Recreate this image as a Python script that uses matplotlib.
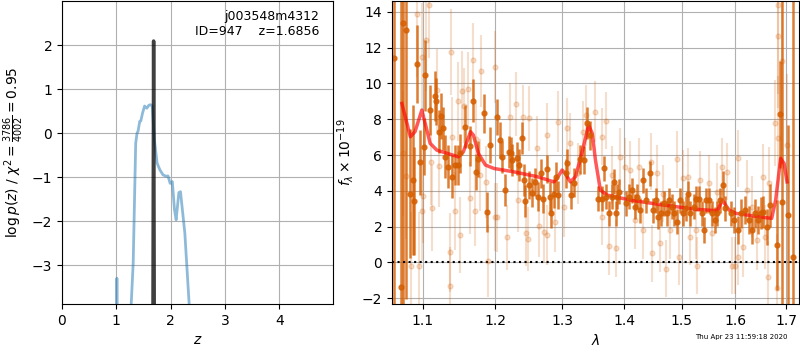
"""Redshift fit summary for j003548m4312 ID=947: p(z) and G141 spectrum."""

import matplotlib
matplotlib.use("Agg")
import matplotlib.pyplot as plt
from matplotlib.ticker import FixedLocator, FixedFormatter, NullLocator

# ---- p(z) panel ----
zgrid = [0.98, 1.0, 1.01, 1.02, 1.23, 1.31, 1.356, 1.38, 1.40, 1.43, 1.45, 1.48,
         1.52, 1.56, 1.60, 1.63, 1.66, 1.70, 1.75, 1.80, 1.86, 1.92, 1.95, 1.99,
         2.03, 2.07, 2.10, 2.15, 2.18, 2.26, 2.34]
logpz = [-5.0, -5.0, -3.3, -5.0, -5.0, -2.95, -0.23, 0.0, 0.05, 0.27, 0.28, 0.45,
         0.62, 0.57, 0.64, 0.65, 0.62, -0.15, -0.68, -0.83, -0.95, -0.98, -0.97, -1.14,
         -1.1, -1.74, -1.97, -1.35, -1.33, -2.27, -3.9]
zspike = [1.672, 1.6856, 1.699]
logpz_spike = [-5.0, 2.1, -5.0]
z_best = 1.6856
chi2_num, chi2_den = 3786, 4002

# ---- spectrum panel: binned (dark) points ----
wave_bin = [1.063, 1.072, 1.075, 1.078, 1.083, 1.087, 1.089, 1.093, 1.097, 1.102,
            1.103, 1.110, 1.116, 1.118, 1.122, 1.124, 1.127, 1.130, 1.134, 1.139,
            1.143, 1.147, 1.151, 1.157, 1.164, 1.168, 1.173, 1.175, 1.184, 1.188,
            1.193, 1.203, 1.207, 1.210, 1.214, 1.220, 1.223, 1.225, 1.232, 1.235,
            1.239, 1.242, 1.244, 1.249, 1.254, 1.258, 1.263, 1.268, 1.270, 1.276,
            1.281, 1.283, 1.287, 1.290, 1.293, 1.306, 1.308, 1.314, 1.319, 1.329,
            1.335, 1.339, 1.344, 1.357, 1.363, 1.367, 1.371, 1.375, 1.380, 1.383,
            1.386, 1.388, 1.392, 1.403, 1.408, 1.413, 1.418, 1.422, 1.428, 1.432,
            1.438, 1.445, 1.450, 1.455, 1.459, 1.463, 1.469, 1.474, 1.478, 1.483,
            1.487, 1.492, 1.498, 1.502, 1.508, 1.512, 1.516, 1.522, 1.527, 1.531,
            1.537, 1.541, 1.545, 1.551, 1.556, 1.561, 1.565, 1.571, 1.577, 1.580,
            1.591, 1.598, 1.605, 1.611, 1.619, 1.626, 1.632, 1.638, 1.643, 1.650,
            1.654, 1.661, 1.668, 1.681, 1.688, 1.691, 1.704, 1.714]
flux_bin = [11.4, -1.36, 13.35, 12.98, 3.85, 4.6, 3.42, 11.08, 5.59, 6.46,
            10.45, 8.5, 9.29, 9.0, 7.3, 8.17, 7.49, 5.9, 5.34, 4.78,
            5.44, 5.44, 6.1, 7.58, 6.5, 9.03, 5.03, 5.8, 8.32, 2.81,
            6.55, 8.13, 6.83, 5.9, 4.04, 6.18, 6.09, 5.72, 5.81, 5.44,
            6.93, 4.6, 3.42, 4.32, 3.9, 4.5, 3.67, 4.97, 3.57, 5.21,
            3.67, 2.74, 3.85, 4.79, 3.76, 4.97, 5.53, 3.76, 4.45, 5.75,
            5.72, 7.8, 7.1, 3.57, 3.57, 5.25, 3.67, 2.74, 3.67, 4.5,
            2.74, 3.67, 3.95, 3.3, 3.67, 4.04, 3.11, 3.67, 2.92, 4.6,
            3.48, 4.97, 2.92, 3.48, 2.55, 2.74, 3.3, 2.74, 3.48, 3.11,
            2.74, 2.27, 3.48, 2.74, 3.02, 3.85, 2.74, 3.11, 3.57, 3.57,
            2.74, 1.81, 3.48, 3.48, 2.74, 2.37, 2.74, 3.48, 4.32, 3.02,
            2.74, 2.37, 1.81, 2.74, 2.92, 2.37, 1.81, 2.74, 2.37, 2.74,
            2.83, 1.99, 3.2, 0.97, 8.27, 3.4, 2.65, 0.32]
err_bin = [20.0, 20.0, 20.0, 15.0, 3.6, 4.2, 3.0, 2.2, 1.8, 1.6,
           2.0, 1.4, 1.4, 1.3, 1.2, 1.3, 1.2, 1.2, 1.2, 1.2,
           1.1, 1.1, 1.1, 1.2, 1.1, 1.2, 1.0, 1.0, 1.1, 1.1,
           1.0, 1.0, 1.0, 0.9, 0.9, 0.9, 0.9, 0.9, 0.9, 0.9,
           0.9, 0.9, 0.9, 0.8, 0.8, 0.8, 0.8, 0.8, 0.8, 0.8,
           0.8, 0.8, 0.8, 0.8, 0.8, 0.8, 0.8, 0.8, 0.8, 0.8,
           0.8, 0.9, 0.8, 0.7, 0.7, 0.7, 0.7, 0.7, 0.7, 0.7,
           0.7, 0.7, 0.7, 0.7, 0.7, 0.7, 0.7, 0.7, 0.7, 0.7,
           0.7, 0.7, 0.7, 0.7, 0.7, 0.7, 0.7, 0.7, 0.7, 0.7,
           0.7, 0.7, 0.7, 0.7, 0.7, 0.7, 0.7, 0.7, 0.7, 0.7,
           0.7, 0.7, 0.7, 0.7, 0.7, 0.7, 0.7, 0.7, 0.8, 0.7,
           0.7, 0.7, 0.8, 0.8, 0.8, 0.8, 0.8, 0.8, 0.8, 0.9,
           0.9, 1.0, 1.2, 2.5, 3.0, 20.0, 5.0, 20.0]

# ---- spectrum panel: unbinned (light) points ----
wave_raw = [1.075, 1.078, 1.085, 1.092, 1.095, 1.099, 1.099, 1.100, 1.105, 1.109,
            1.111, 1.112, 1.119, 1.122, 1.137, 1.137, 1.138, 1.140, 1.143, 1.148,
            1.151, 1.153, 1.156, 1.161, 1.164, 1.169, 1.171, 1.172, 1.178, 1.180,
            1.187, 1.190, 1.199, 1.200, 1.203, 1.217, 1.222, 1.230, 1.233, 1.240,
            1.245, 1.248, 1.249, 1.262, 1.265, 1.272, 1.276, 1.277, 1.289, 1.293,
            1.303, 1.308, 1.313, 1.325, 1.333, 1.338, 1.353, 1.364, 1.364, 1.370,
            1.375, 1.380, 1.387, 1.393, 1.401, 1.410, 1.418, 1.426, 1.433, 1.446,
            1.448, 1.457, 1.461, 1.467, 1.473, 1.480, 1.491, 1.495, 1.503, 1.512,
            1.515, 1.526, 1.528, 1.533, 1.551, 1.556, 1.566, 1.575, 1.583, 1.593,
            1.600, 1.604, 1.605, 1.615, 1.622, 1.633, 1.641, 1.653, 1.657, 1.664,
            1.666, 1.678, 1.681, 1.683, 1.683, 1.684, 1.691, 1.702]
flux_raw = [6.1, 4.82, -0.19, 13.86, -0.19, 2.87, 11.49, 3.7, 12.4, 14.4,
            5.6, 3.02, 9.63, 5.4, 0.56, -1.32, 11.77, 7.02, 2.87, 9.0,
            1.53, 9.6, 8.75, 9.67, 3.6, 11.3, 2.9, 6.9, 4.9, 10.69,
            4.5, 0.09, 2.55, 10.93, 2.51, 1.4, 8.13, 8.84, 3.48, 8.13,
            1.62, 1.3, 8.04, 6.37, 2.03, 1.71, 7.11, 1.53, 2.27, 7.86,
            3.11, 7.49, 6.65, 4.97, 7.3, 8.23, 8.41, 7.02, 2.55, 7.91,
            0.91, 4.88, 0.78, 5.9, 5.34, 5.16, 2.37, 5.34, 1.81, 5.62,
            0.5, 4.97, 1.06, 3.85, -0.34, 1.81, 5.75, 0.32, 4.69, 4.79,
            1.43, 1.81, -0.19, 4.6, 4.41, 1.62, 3.95, 5.34, 5.06, -0.19,
            -0.19, 5.81, 0.32, 0.88, 4.04, 3.11, 1.25, 4.79, 1.43, -0.8,
            4.45, 7.8, -1.4, 6.93, 12.64, 14.4, 11.25, 6.55]
err_raw = [3.5, 3.5, 3.0, 3.5, 3.0, 2.8, 3.0, 2.6, 2.8, 3.0,
           2.4, 2.4, 2.3, 2.3, 2.2, 2.2, 2.4, 2.2, 2.2, 2.2,
           2.1, 2.2, 2.1, 2.1, 2.0, 2.1, 2.0, 2.0, 2.0, 2.0,
           2.0, 2.0, 1.9, 2.0, 1.9, 1.8, 1.9, 1.8, 1.8, 1.8,
           1.8, 1.8, 1.8, 1.8, 1.7, 1.7, 1.8, 1.7, 1.7, 1.7,
           1.7, 1.7, 1.7, 1.7, 1.7, 1.7, 1.7, 1.6, 1.6, 1.6,
           1.6, 1.6, 1.6, 1.6, 1.6, 1.6, 1.6, 1.6, 1.6, 1.6,
           1.6, 1.6, 1.6, 1.6, 1.6, 1.6, 1.6, 1.6, 1.6, 1.6,
           1.6, 1.6, 1.6, 1.6, 1.6, 1.6, 1.6, 1.6, 1.6, 1.6,
           1.6, 1.6, 1.6, 1.7, 1.7, 1.7, 1.7, 1.8, 1.8, 2.0,
           2.0, 2.4, 3.0, 3.5, 4.0, 5.0, 5.0, 4.0]

# ---- best-fit model ----
wave_model = [1.073, 1.084, 1.090, 1.099, 1.110, 1.119, 1.133, 1.148, 1.155, 1.165,
              1.169, 1.176, 1.186, 1.198, 1.227, 1.262, 1.287, 1.292, 1.300, 1.305,
              1.313, 1.321, 1.331, 1.342, 1.348, 1.353, 1.361, 1.372, 1.411, 1.469,
              1.529, 1.566, 1.575, 1.588, 1.601, 1.656, 1.671, 1.679, 1.689, 1.696,
              1.702]
flux_model = [8.88, 7.02, 7.3, 8.51, 6.65, 6.27, 6.09, 5.9, 6.18, 7.3,
              7.11, 6.09, 5.44, 5.25, 5.06, 4.79, 4.5, 4.69, 5.16, 4.97,
              4.5, 4.79, 6.09, 7.67, 7.2, 5.72, 4.04, 3.76, 3.48, 3.2,
              2.96, 2.89, 3.48, 2.92, 2.74, 2.51, 2.46, 3.48, 5.81, 5.53,
              4.5]

wave_ticks = [1.1, 1.2, 1.3, 1.4, 1.5, 1.6, 1.7]
grism_color = "#d55e00"


def main():
    fig = plt.figure(figsize=(8.0, 3.5), dpi=100)

    # p(z)
    ax = fig.add_axes([0.0775, 0.131, 0.339, 0.866])
    ax.plot(zgrid, logpz, color="C0", alpha=0.5, linewidth=2)
    ax.plot(zspike, logpz_spike, color="k", alpha=0.75, linewidth=2.5)
    ax.set_xlim(0, 4.99)
    ax.set_ylim(-3.89, 3.01)
    ax.set_xticks([0, 1, 2, 3, 4])
    ax.set_yticks([-3, -2, -1, 0, 1, 2])
    ax.grid()
    ax.set_xlabel(r"$z$")
    ax.set_ylabel(r"$\log p(z)$" + " / " +
                  r"$\chi^2=\frac{%d}{%d}=%.2f$" % (chi2_num, chi2_den, chi2_num / chi2_den))
    ax.text(0.95, 0.97, "j003548m4312\nID=947    z=%.4f" % z_best,
            transform=ax.transAxes, ha="right", va="top", fontsize=9)

    # spectrum
    ax = fig.add_axes([0.49, 0.131, 0.509, 0.866])
    ax.errorbar(wave_raw, flux_raw, err_raw, color=grism_color, alpha=0.2,
                marker="o", markersize=3.5, linestyle="None", linewidth=1.5)
    ax.errorbar(wave_bin, flux_bin, err_bin, color=grism_color, alpha=0.8,
                marker="o", markersize=3.5, linestyle="None", linewidth=1.8)
    ax.plot(wave_model, flux_model, color="r", alpha=0.65, linewidth=2.5)
    ax.plot([1.06, 1.727], [0, 0], color="k", linestyle=":", linewidth=1.5)
    ax.set_xscale("log")
    ax.set_xlim(1.0604, 1.727)
    ax.set_ylim(-2.33, 14.6)
    ax.xaxis.set_major_locator(FixedLocator(wave_ticks))
    ax.xaxis.set_major_formatter(FixedFormatter(["%.1f" % w for w in wave_ticks]))
    ax.xaxis.set_minor_locator(NullLocator())
    ax.set_yticks([-2, 0, 2, 4, 6, 8, 10, 12, 14])
    ax.grid()
    ax.set_xlabel(r"$\lambda$")
    ax.set_ylabel(r"$f_\lambda\times10^{-19}$")

    fig.text(0.984, 0.03, "Thu Apr 23 11:59:18 2020", ha="right", va="bottom", fontsize=5)

    fig.savefig("out.png", dpi=100)


if __name__ == "__main__":
    main()
